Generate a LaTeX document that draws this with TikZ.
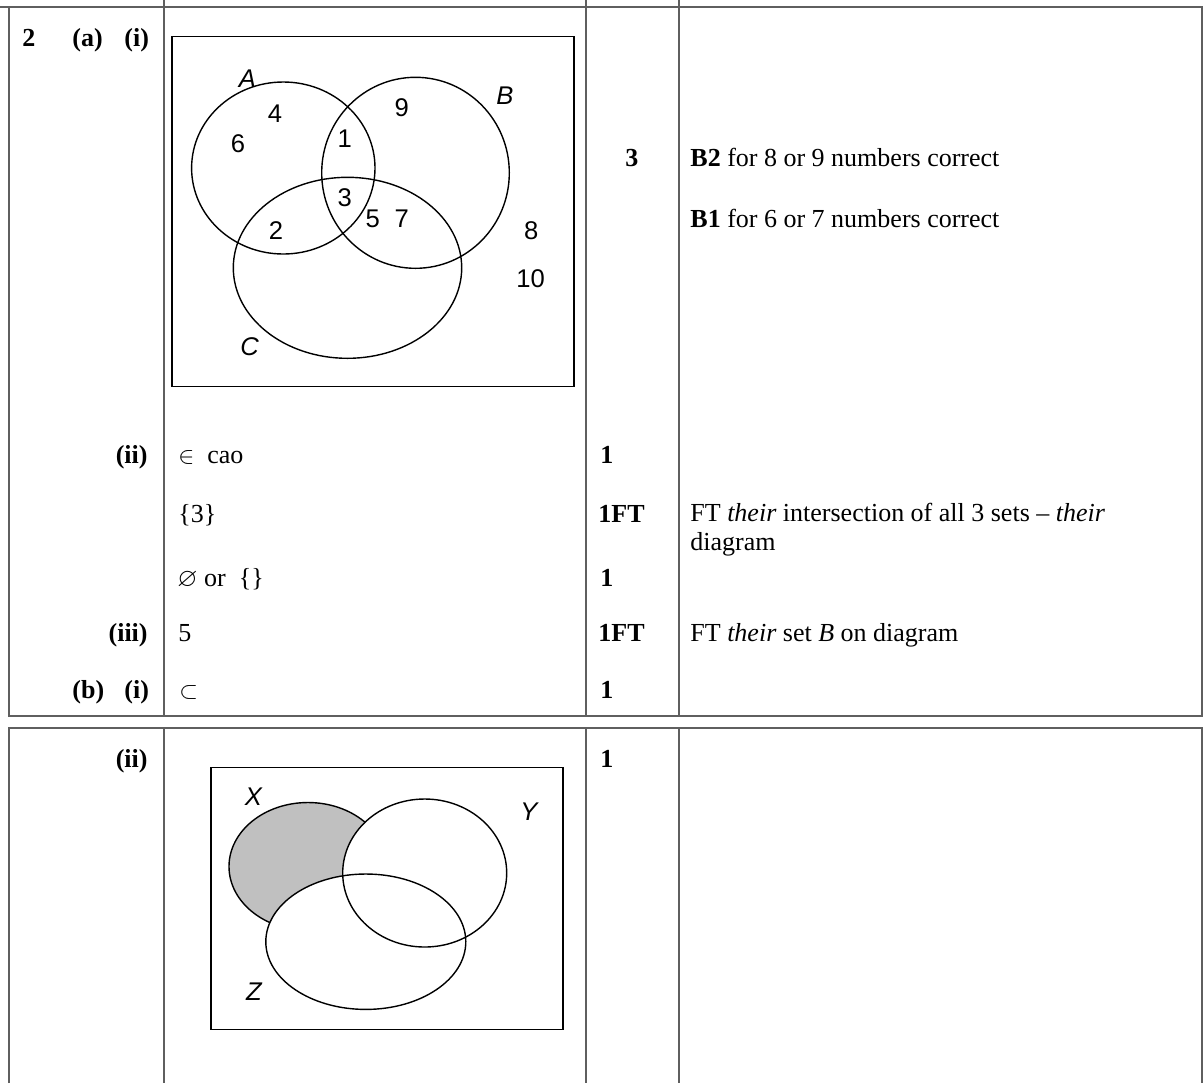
\documentclass[tikz,border=0pt]{standalone}
\usepackage{amssymb}
\usepackage{fontspec}
\setmainfont{Liberation Serif}
\newfontfamily\vennfont{Liberation Sans}
\usepackage{tikz}
\definecolor{rulegray}{RGB}{95,95,95}
\definecolor{shadegray}{RGB}{192,192,192}
\tikzset{
  rule/.style={draw=rulegray,line width=0.75pt},
  vennline/.style={draw=black,line width=0.7pt},
  txt/.style={anchor=base west,inner sep=0pt,font=\fontsize{13}{15}\selectfont},
  boldtxt/.style={txt,font=\fontsize{13}{15}\selectfont\bfseries},
  partlabel/.style={anchor=base east,inner sep=0pt,font=\fontsize{13}{15}\selectfont\bfseries},
  vnum/.style={inner sep=0pt,font=\vennfont\fontsize{12.8}{14}\selectfont},
  vlab/.style={inner sep=0pt,font=\vennfont\itshape\fontsize{12.8}{14}\selectfont}
}

\begin{document}
\begin{tikzpicture}[x=0.5pt,y=-0.5pt]
  \useasboundingbox (0,0) rectangle (1203,1083);
  % table frames
  \draw[rule] (0,7) -- (1203,7);
  \draw[rule] (9,7) -- (9,716) -- (1202,716) -- (1202,7);
  \draw[rule] (164,0) -- (164,716);
  \draw[rule] (586,0) -- (586,716);
  \draw[rule] (679,0) -- (679,716);
  \draw[rule] (9,1083) -- (9,728) -- (1202,728) -- (1202,1083);
  \draw[rule] (164,728) -- (164,1083);
  \draw[rule] (586,728) -- (586,1083);
  \draw[rule] (679,728) -- (679,1083);

  % part labels
  \node[boldtxt] (q2) at (22,46) {2};
  \node[boldtxt] (qa) at (72,46) {(a)};
  \node[boldtxt] (qai) at (124,46) {(i)};
  \node[partlabel] (qaii) at (148,463) {(ii)};
  \node[partlabel] (qaiii) at (148,641) {(iii)};
  \node[boldtxt] (qb) at (72,698) {(b)};
  \node[boldtxt] (qbi) at (124,698) {(i)};
  \node[partlabel] (qbii) at (148,767) {(ii)};

  % answers
  \node[txt] (ans1) at (178,463) {$\in$\enspace cao};
  \node[txt] (ans2) at (178,522) {\{3\}};
  \node[txt] (ans3) at (177,586) {$\varnothing$ or\enspace\{\}};
  \node[txt] (ans4) at (178,641) {5};
  \node[txt] (ans5) at (179,698) {$\subset$};

  % marks
  \node[boldtxt] (mk0) at (625,166) {3};
  \node[boldtxt] (mk1) at (600,463) {1};
  \node[boldtxt] (mk2) at (598,522) {1FT};
  \node[boldtxt] (mk3) at (600,586) {1};
  \node[boldtxt] (mk4) at (598,641) {1FT};
  \node[boldtxt] (mk5) at (600,698) {1};
  \node[boldtxt] (mk6) at (600,767) {1};

  % guidance
  \node[txt] (gd1) at (690,166) {\textbf{B2} for 8 or 9 numbers correct};
  \node[txt] (gd2) at (690,227) {\textbf{B1} for 6 or 7 numbers correct};
  \node[txt] (gd3) at (690,521) {FT \textit{their} intersection of all 3 sets -- \textit{their}};
  \node[txt] (gd4) at (690,550) {diagram};
  \node[txt] (gd5) at (690,641) {FT \textit{their} set \textit{B} on diagram};

  % venn diagram A B C
  \draw[vennline] (172,36.5) rectangle (574,386.5);
  \draw[vennline] (283.3,168) ellipse [x radius=91.7, y radius=86];
  \draw[vennline] (415.5,172.8) ellipse [x radius=93.8, y radius=95.5];
  \draw[vennline] (347.5,267.8) ellipse [x radius=114.2, y radius=90.5];
  \node[vlab] (labA) at (247.5,79) {A};
  \node[vlab] (labB) at (505,96) {B};
  \node[vlab] (labC) at (249.7,346.7) {C};
  \node[vnum] (n4) at (275,114) {4};
  \node[vnum] (n6) at (238,143.3) {6};
  \node[vnum] (n1) at (344.7,139) {1};
  \node[vnum] (n9) at (401.7,107.5) {9};
  \node[vnum] (n3) at (344.7,197.5) {3};
  \node[vnum] (n5) at (372.7,219) {5};
  \node[vnum] (n7) at (401.7,219) {7};
  \node[vnum] (n2) at (276,230.8) {2};
  \node[vnum] (n8) at (531.3,230.8) {8};
  \node[vnum] (n10) at (530.5,278.8) {10};

  % venn diagram X Y Z
  \draw[vennline] (211,767.5) rectangle (563,1029.5);
  \filldraw[vennline,fill=shadegray] (308,866.5) ellipse [x radius=79, y radius=64];
  \fill[white] (424.7,873) ellipse [x radius=82, y radius=74];
  \fill[white] (365.8,941.7) ellipse [x radius=100, y radius=67.7];
  \draw[vennline] (424.7,873) ellipse [x radius=82, y radius=74];
  \draw[vennline] (365.8,941.7) ellipse [x radius=100, y radius=67.7];
  \node[vlab] (labX) at (253.3,796.7) {X};
  \node[vlab] (labY) at (529,812) {Y};
  \node[vlab] (labZ) at (254,992) {Z};
\end{tikzpicture}
\end{document}
